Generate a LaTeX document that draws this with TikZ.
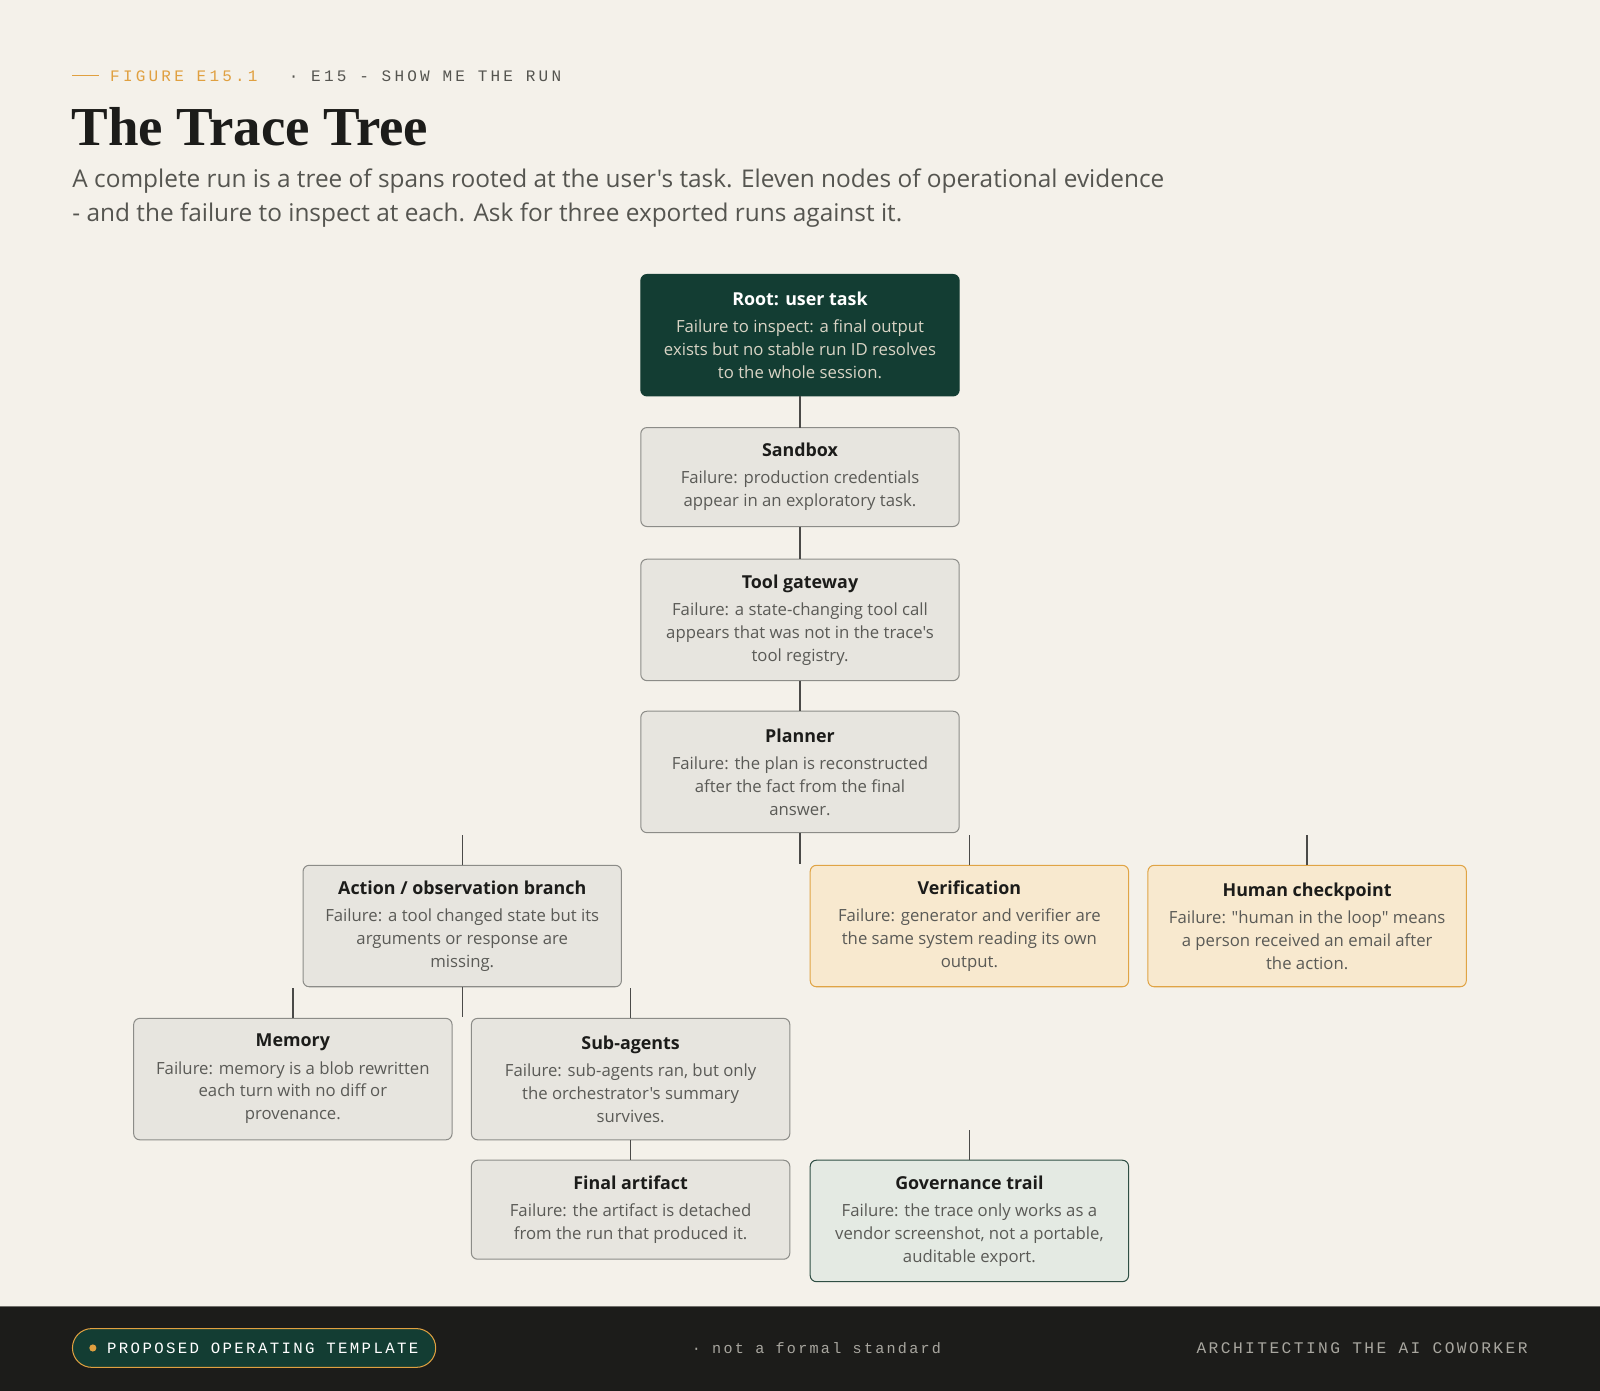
\documentclass[tikz,border=0pt]{standalone}
\usepackage{fontspec}
\setmainfont{Open Sans}[Ligatures=TeXOff]
\newfontfamily\serifbold{Liberation Serif}[BoldFont={Liberation Serif Bold}]
\newfontfamily\monohead{Liberation Mono}[LetterSpace=20]
\newfontfamily\monofoot{Liberation Mono}[LetterSpace=15]
\definecolor{bg}{HTML}{F4F1EA}
\definecolor{boxfill}{HTML}{E7E5DF}
\definecolor{boxdraw}{HTML}{8C8C88}
\definecolor{rootfill}{HTML}{133D33}
\definecolor{rootbody}{HTML}{D9D4C5}
\definecolor{ambfill}{HTML}{F8E9CF}
\definecolor{ambdraw}{HTML}{E0A445}
\definecolor{govfill}{HTML}{E4EAE3}
\definecolor{govdraw}{HTML}{2F4F44}
\definecolor{stubc}{HTML}{4A4A48}
\definecolor{ink}{HTML}{1C1C1A}
\definecolor{body}{HTML}{5A5A56}
\definecolor{footbg}{HTML}{1C1C1A}
\definecolor{orange}{HTML}{E0A040}
\definecolor{subc}{HTML}{555550}
\definecolor{footgrey}{HTML}{A8A69F}
\newcommand\ttl[1]{{\fontsize{17.5}{22}\selectfont\bfseries\color{ink}#1}\\[4pt]}
\newcommand\ttlw[1]{{\fontsize{17.5}{22}\selectfont\bfseries\color{white}#1}\\[4pt]}
\tikzset{
  every node/.style={inner sep=0pt, outer sep=0pt},
  card/.style={rounded corners=6pt, line width=1pt, minimum width=312pt, align=center,
    anchor=north, font={\fontsize{16.4}{22.5}\selectfont}, text=body},
  greybox/.style={card, fill=boxfill, draw=boxdraw},
  rootbox/.style={card, fill=rootfill, draw=rootfill, text=rootbody},
  ambbox/.style={card, fill=ambfill, draw=ambdraw},
  govbox/.style={card, fill=govfill, draw=govdraw},
  stub/.style={draw=stubc, line width=1.4pt},
}
\begin{document}
\begin{tikzpicture}[x=1pt,y=1pt]
\useasboundingbox (0,0) rectangle (1568,-1363);
\fill[bg] (0,0) rectangle (1568,-1363);
% header
\draw[orange, line width=1.5pt] (71,-74) -- (97,-74);
\node[anchor=west, text=orange, font={\monohead\fontsize{15.7}{18}\selectfont}] (fig) at (108,-74.5) {FIGURE E15.1};
\node[anchor=west, text=subc, font={\monohead\fontsize{15.7}{18}\selectfont}] (ep) at (283,-74.5) {· E15 - SHOW ME THE RUN};
\node[anchor=base west, text=ink, font={\serifbold\bfseries\fontsize{53.8}{60}\selectfont}] (title) at (70,-143) {The Trace Tree};
\node[anchor=base west, text=subc, font={\fontsize{23.9}{33}\selectfont}, align=left] (sub) at (71,-217) {A complete run is a tree of spans rooted at the user's task. Eleven nodes of operational evidence\\- and the failure to inspect at each. Ask for three exported runs against it.};
% boxes
\node[rootbox, minimum height=119pt] (root) at (784,-269) {\ttlw{Root: user task}Failure to inspect: a final output\\exists but no stable run ID resolves\\to the whole session.};
\node[greybox, minimum height=97pt] (sandbox) at (784,-419) {\ttl{Sandbox}Failure: production credentials\\appear in an exploratory task.};
\node[greybox, minimum height=119pt] (gateway) at (784,-548) {\ttl{Tool gateway}Failure: a state-changing tool call\\appears that was not in the trace's\\tool registry.};
\node[greybox, minimum height=119pt] (planner) at (784,-697) {\ttl{Planner}Failure: the plan is reconstructed\\after the fact from the final\\answer.};
\node[greybox, minimum height=119pt] (action) at (453,-848) {\ttl{Action / observation branch}Failure: a tool changed state but its\\arguments or response are\\missing.};
\node[ambbox, minimum height=119pt] (verif) at (950,-848) {\ttl{Verification}Failure: generator and verifier are\\the same system reading its own\\output.};
\node[ambbox, minimum height=119pt] (human) at (1281,-848) {\ttl{Human checkpoint}Failure: "human in the loop" means\\a person received an email after\\the action.};
\node[greybox, minimum height=119pt] (memory) at (287,-998) {\ttl{Memory}Failure: memory is a blob rewritten\\each turn with no diff or\\provenance.};
\node[greybox, minimum height=119pt] (subag) at (618,-998) {\ttl{Sub-agents}Failure: sub-agents ran, but only\\the orchestrator's summary\\survives.};
\node[greybox, minimum height=97pt] (final) at (618,-1137) {\ttl{Final artifact}Failure: the artifact is detached\\from the run that produced it.};
\node[govbox, minimum height=119pt] (gov) at (950,-1137) {\ttl{Governance trail}Failure: the trace only works as a\\vendor screenshot, not a portable,\\auditable export.};
% connectors (stubs)
\draw[stub] (root.south) -- (sandbox.north);
\draw[stub] (sandbox.south) -- (gateway.north);
\draw[stub] (gateway.south) -- (planner.north);
\draw[stub] (planner.south) -- ++(0,-31);
\draw[stub] (action.north) -- ++(0,30);
\draw[stub] (verif.north) -- ++(0,30);
\draw[stub] (human.north) -- ++(0,30);
\draw[stub] (action.south) -- ++(0,-30);
\draw[stub] (memory.north) -- ++(0,30);
\draw[stub] (subag.north) -- ++(0,30);
\draw[stub] (subag.south) -- (final.north);
\draw[stub] (gov.north) -- ++(0,30);
% footer
\fill[footbg] (0,-1280) rectangle (1568,-1363);
\draw[footgrey!60!footbg, line width=1pt] (0,-1280.5) -- (1568,-1280.5);
\node[draw=orange, fill=rootfill, line width=1pt, rounded corners=19pt, minimum width=356pt, minimum height=38pt, anchor=west] (pill) at (71,-1321) {};
\fill[orange] ([xshift=20pt]pill.west) circle (3.5pt);
\node[anchor=west, text=white, font={\monofoot\fontsize{15.4}{18}\selectfont}] (pilltext) at (105,-1321) {PROPOSED OPERATING TEMPLATE};
\node[anchor=west, text=footgrey, font={\monofoot\fontsize{14.8}{18}\selectfont}] (notstd) at (678,-1321) {· not a formal standard};
\node[anchor=east, text=footgrey, font={\monofoot\fontsize{15.9}{18}\selectfont}] (arch) at (1497,-1321) {ARCHITECTING THE AI COWORKER};
\end{tikzpicture}
\end{document}
